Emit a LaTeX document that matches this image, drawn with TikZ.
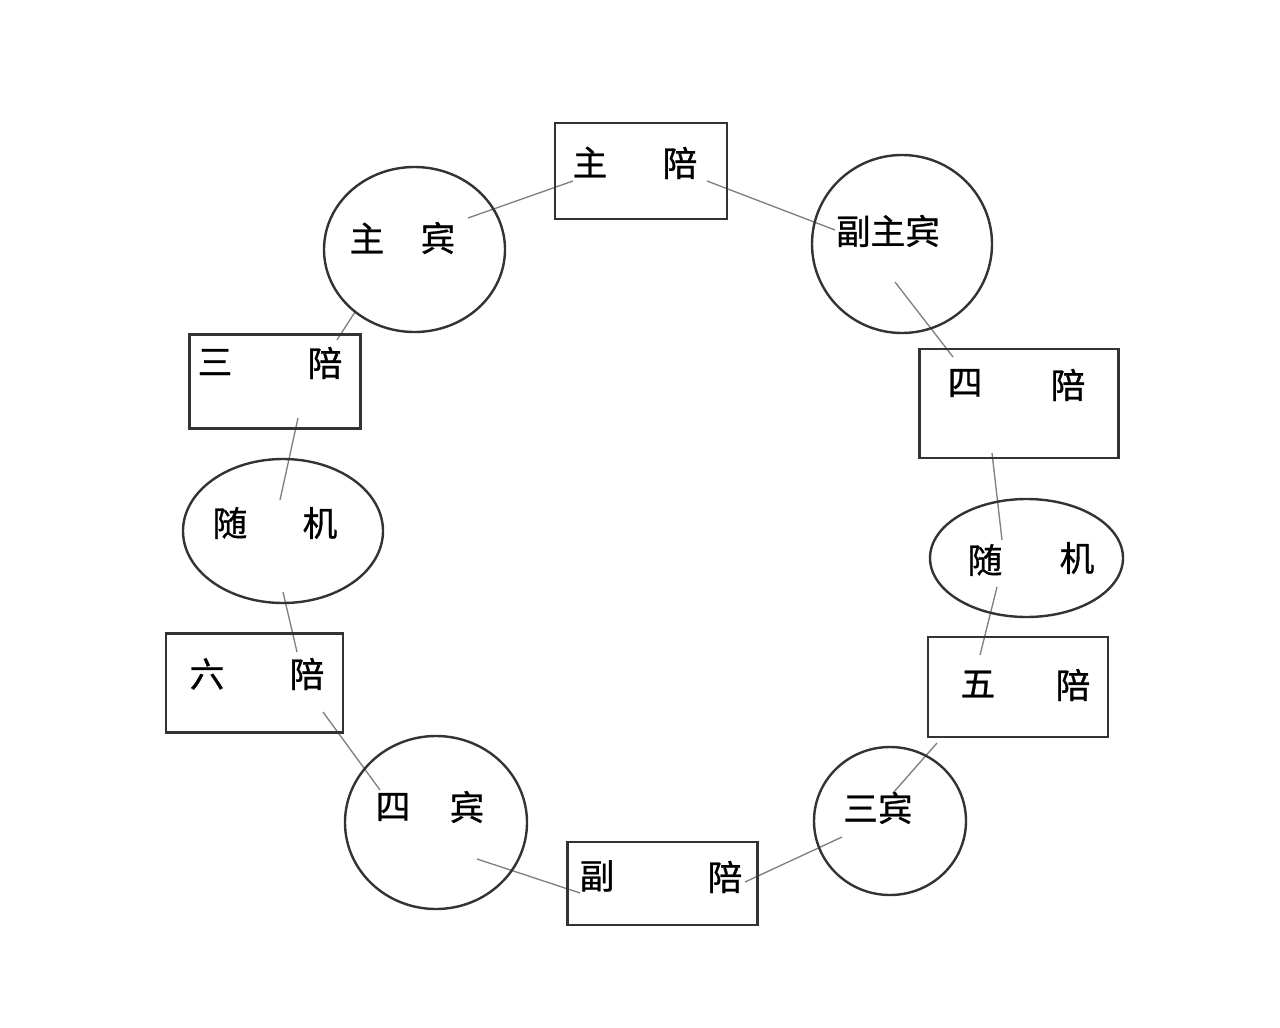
\documentclass[tikz,border=0pt]{standalone}
\usepackage{fontspec}
\newfontfamily\cjk[FakeBold=0.8]{Noto Sans CJK SC}
\usetikzlibrary{shapes.geometric}
\begin{document}
\begin{tikzpicture}[x=0.75pt,y=-0.75pt,
  seat/.style={draw=black!80,line width=2pt,rectangle,inner sep=0pt},
  guest/.style={draw=black!80,line width=1.8pt,ellipse,inner sep=0pt},
  lbl/.style={font=\cjk\fontsize{26}{26}\selectfont,text=black,inner sep=0pt},
  link/.style={draw=black!50,line width=1pt}]
\useasboundingbox[fill=white] (0,0) rectangle (1280,1027);

% connector end points
\coordinate (p1a) at (468,218);  \coordinate (p1b) at (573,181);
\coordinate (p2a) at (707,181);  \coordinate (p2b) at (835,230);
\coordinate (p3a) at (895,282);  \coordinate (p3b) at (953,357);
\coordinate (p4a) at (992,453);  \coordinate (p4b) at (1002,540);
\coordinate (p5a) at (997,587);  \coordinate (p5b) at (980,655);
\coordinate (p6a) at (937,743);  \coordinate (p6b) at (893,793);
\coordinate (p7a) at (842,837);  \coordinate (p7b) at (745,882);
\coordinate (p8a) at (580,893);  \coordinate (p8b) at (477,859);
\coordinate (p9a) at (380,790);  \coordinate (p9b) at (323,712);
\coordinate (p10a) at (297,652); \coordinate (p10b) at (283,592);
\coordinate (p11a) at (280,500); \coordinate (p11b) at (298,418);
\coordinate (p12a) at (337,340); \coordinate (p12b) at (355,312);

\draw[link] (p1a) -- (p1b);
\draw[link] (p2a) -- (p2b);
\draw[link] (p3a) -- (p3b);
\draw[link] (p4a) -- (p4b);
\draw[link] (p5a) -- (p5b);
\draw[link] (p6a) -- (p6b);
\draw[link] (p7a) -- (p7b);
\draw[link] (p8a) -- (p8b);
\draw[link] (p9a) -- (p9b);
\draw[link] (p10a) -- (p10b);
\draw[link] (p11a) -- (p11b);
\draw[link] (p12a) -- (p12b);

% rectangles (seats)
\node[seat,minimum width={172*0.75pt},minimum height={96*0.75pt}] (zhupei) at (641,171) {};
\node[seat,minimum width={171*0.75pt},minimum height={94*0.75pt}] (sanpei) at (275,381.5) {};
\node[seat,minimum width={199*0.75pt},minimum height={109*0.75pt}] (sipei) at (1019,403.5) {};
\node[seat,minimum width={177*0.75pt},minimum height={99*0.75pt}] (liupei) at (254.5,683) {};
\node[seat,minimum width={180*0.75pt},minimum height={100*0.75pt}] (wupei) at (1018,687) {};
\node[seat,minimum width={190*0.75pt},minimum height={83*0.75pt}] (fupei) at (662.5,883.5) {};

% ellipses (guests)
\node[guest,minimum width={181*0.75pt},minimum height={165*0.75pt}] (zhubin) at (414.5,249.5) {};
\node[guest,minimum width={180*0.75pt},minimum height={178*0.75pt}] (fuzhubin) at (902,244) {};
\node[guest,minimum width={200*0.75pt},minimum height={144*0.75pt}] (suijiL) at (283,531) {};
\node[guest,minimum width={193*0.75pt},minimum height={118*0.75pt}] (suijiR) at (1026.5,558) {};
\node[guest,minimum width={182*0.75pt},minimum height={173*0.75pt}] (sibin) at (436,822.5) {};
\node[guest,minimum width={152*0.75pt},minimum height={148*0.75pt}] (sanbin) at (890,821) {};

% labels
\node[lbl] (t1a) at (590,162) {主};   \node[lbl] (t1b) at (680,163) {陪};
\node[lbl] (t2a) at (367,238) {主};   \node[lbl] (t2b) at (438,238) {宾};
\node[lbl] (t3)  at (888,231) {副主宾};
\node[lbl] (t4a) at (965,383) {四};   \node[lbl] (t4b) at (1068,385) {陪};
\node[lbl] (t5a) at (215,362) {三};   \node[lbl] (t5b) at (325,363) {陪};
\node[lbl] (t6a) at (230,523) {随};   \node[lbl] (t6b) at (320,523) {机};
\node[lbl] (t7a) at (207,674) {六};   \node[lbl] (t7b) at (307,674) {陪};
\node[lbl] (t8a) at (985,560) {随};   \node[lbl] (t8b) at (1077,558) {机};
\node[lbl] (t9a) at (978,684) {五};   \node[lbl] (t9b) at (1073,685) {陪};
\node[lbl] (t10a) at (393,807) {四};  \node[lbl] (t10b) at (467,807) {宾};
\node[lbl] (t11) at (878,808) {三宾};
\node[lbl] (t12a) at (597,876) {副};  \node[lbl] (t12b) at (725,877) {陪};
\end{tikzpicture}
\end{document}
